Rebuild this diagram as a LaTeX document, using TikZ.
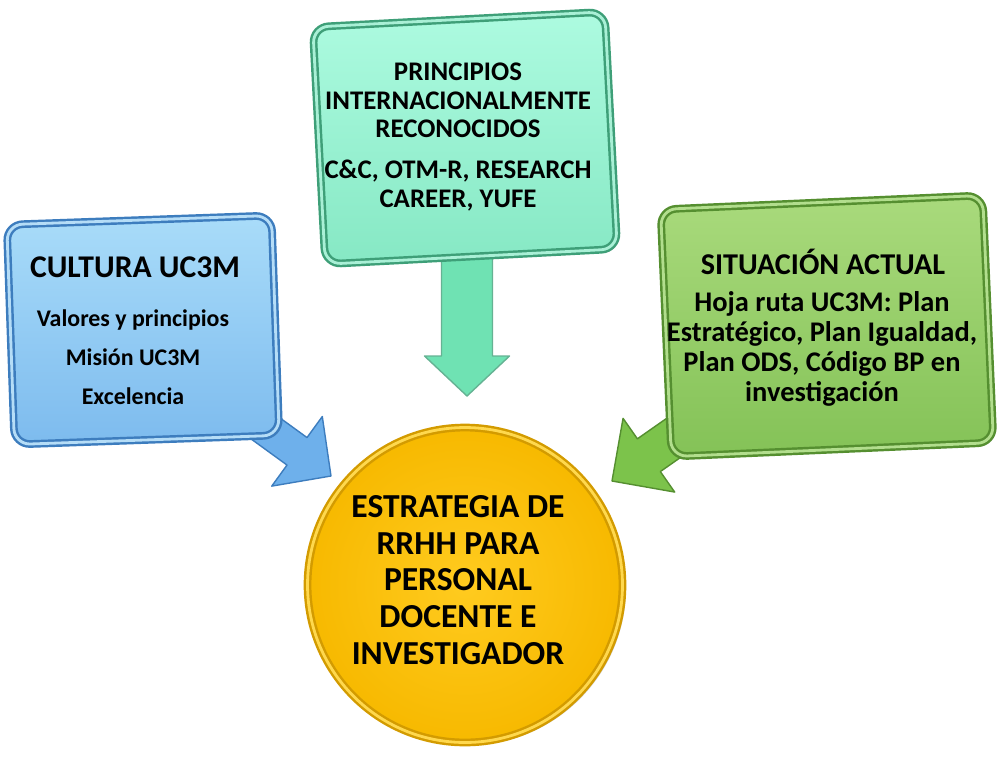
\documentclass[tikz,border=0pt]{standalone}
\usepackage{fontspec}
\setmainfont{Carlito}
\usetikzlibrary{shadows}

\definecolor{culturaTop}{HTML}{A9DCF9}
\definecolor{culturaBottom}{HTML}{7DBBEE}
\definecolor{culturaEdge}{HTML}{3D7DBE}
\definecolor{culturaLight}{HTML}{B5DDF7}
\definecolor{culturaArrowFill}{HTML}{6EB0EB}
\definecolor{principiosTop}{HTML}{ADFBE0}
\definecolor{principiosBottom}{HTML}{86E8C4}
\definecolor{principiosEdge}{HTML}{3E9F78}
\definecolor{principiosLight}{HTML}{A9F0D6}
\definecolor{principiosArrowFill}{HTML}{6FE2B3}
\definecolor{situacionTop}{HTML}{A9DA7C}
\definecolor{situacionBottom}{HTML}{84C257}
\definecolor{situacionEdge}{HTML}{558F30}
\definecolor{situacionLight}{HTML}{B2DE8D}
\definecolor{situacionArrowFill}{HTML}{7CC34B}
\definecolor{estrategiaInner}{HTML}{FFCB1F}
\definecolor{estrategiaOuter}{HTML}{F7B900}
\definecolor{estrategiaEdge}{HTML}{D39B00}
\definecolor{estrategiaLight}{HTML}{FFD84D}

\tikzset{
    panel/.style={rectangle, rounded corners=9pt, inner sep=0pt,
        line width=1.4pt, double distance=1.6pt,
        drop shadow={shadow xshift=1.6pt, shadow yshift=-1.6pt, opacity=.35}},
    boxtext/.style={align=center, inner sep=0pt, text=black},
    blockarrow/.style={line width=0.8pt, line join=round},
    culturaArrow/.style={blockarrow, draw=culturaEdge, fill=culturaArrowFill},
    principiosArrow/.style={blockarrow, draw=principiosEdge!80, fill=principiosArrowFill},
    situacionArrow/.style={blockarrow, draw=situacionEdge, fill=situacionArrowFill}
}

\begin{document}
\begin{tikzpicture}[x=0.02cm, y=-0.02cm]
    \useasboundingbox (0,0) rectangle (1000,765);

    % arrow tips next to the circle
    \coordinate (tipCultura) at (331,476);
    \coordinate (tipPrincipios) at (467,396);
    \coordinate (tipSituacion) at (612,481);

    % block arrows first, the boxes hide their tails
    \draw[culturaArrow, shift={(tipCultura)}, rotate=-36]
        (0,0) -- (-42,43) -- (-42,17) -- (-100,17) -- (-100,-17) -- (-42,-17) -- (-42,-43) -- cycle;
    \draw[principiosArrow, shift={(tipPrincipios)}, rotate=-90]
        (0,0) -- (-40,42.5) -- (-40,25.5) -- (-145,25.5) -- (-145,-25.5) -- (-40,-25.5) -- (-40,-42.5) -- cycle;
    \draw[situacionArrow, shift={(tipSituacion)}, rotate=-145]
        (0,0) -- (-45,45) -- (-45,20) -- (-110,20) -- (-110,-20) -- (-45,-20) -- (-45,-45) -- cycle;

    % boxes
    \node[panel, rotate=2, minimum width=5.3cm, minimum height=4.4cm,
        draw=culturaEdge, double=culturaLight,
        top color=culturaTop, bottom color=culturaBottom] (cultura) at (143,330) {};
    \node[panel, rotate=3, minimum width=5.85cm, minimum height=4.75cm,
        draw=principiosEdge, double=principiosLight,
        top color=principiosTop, bottom color=principiosBottom] (principios) at (465,138) {};
    \node[panel, rotate=2.5, minimum width=6.45cm, minimum height=4.95cm,
        draw=situacionEdge, double=situacionLight,
        top color=situacionTop, bottom color=situacionBottom] (situacion) at (827,326) {};

    % texts
    \node[boxtext, font=\bfseries\fontsize{18}{21}\selectfont] (culturaTitle) at (135,267) {CULTURA UC3M};
    \node[boxtext, font=\bfseries\fontsize{13.6}{22.1}\selectfont] (culturaBody) at (133,357)
        {Valores y principios\\Misión UC3M\\Excelencia};
    \node[boxtext, font=\bfseries\fontsize{15.3}{16.2}\selectfont] (principiosText) at (458,137)
        {PRINCIPIOS\\INTERNACIONALMENTE\\RECONOCIDOS\\[7pt]C\&C, OTM-R, RESEARCH\\CAREER, YUFE};
    \node[boxtext, font=\bfseries\fontsize{17.2}{18}\selectfont] (situacionTitle) at (823,262) {SITUACIÓN ACTUAL};
    \node[boxtext, font=\bfseries\fontsize{16.2}{17}\selectfont] (situacionBody) at (822,349)
        {Hoja ruta UC3M: Plan\\Estratégico, Plan Igualdad,\\Plan ODS, Código BP en\\investigación};

    % centre
    \node[circle, minimum size=6.3cm, inner sep=0pt,
        line width=1.4pt, draw=estrategiaEdge, double=estrategiaLight, double distance=1.6pt,
        inner color=estrategiaInner, outer color=estrategiaOuter,
        drop shadow={shadow xshift=2pt, shadow yshift=-1.5pt, opacity=.35}] (estrategia) at (465,585) {};
    \node[boxtext, font=\bfseries\fontsize{19.1}{21}\selectfont] (estrategiaText) at (458,580)
        {ESTRATEGIA DE\\RRHH PARA\\PERSONAL\\DOCENTE E\\INVESTIGADOR};
\end{tikzpicture}
\end{document}
